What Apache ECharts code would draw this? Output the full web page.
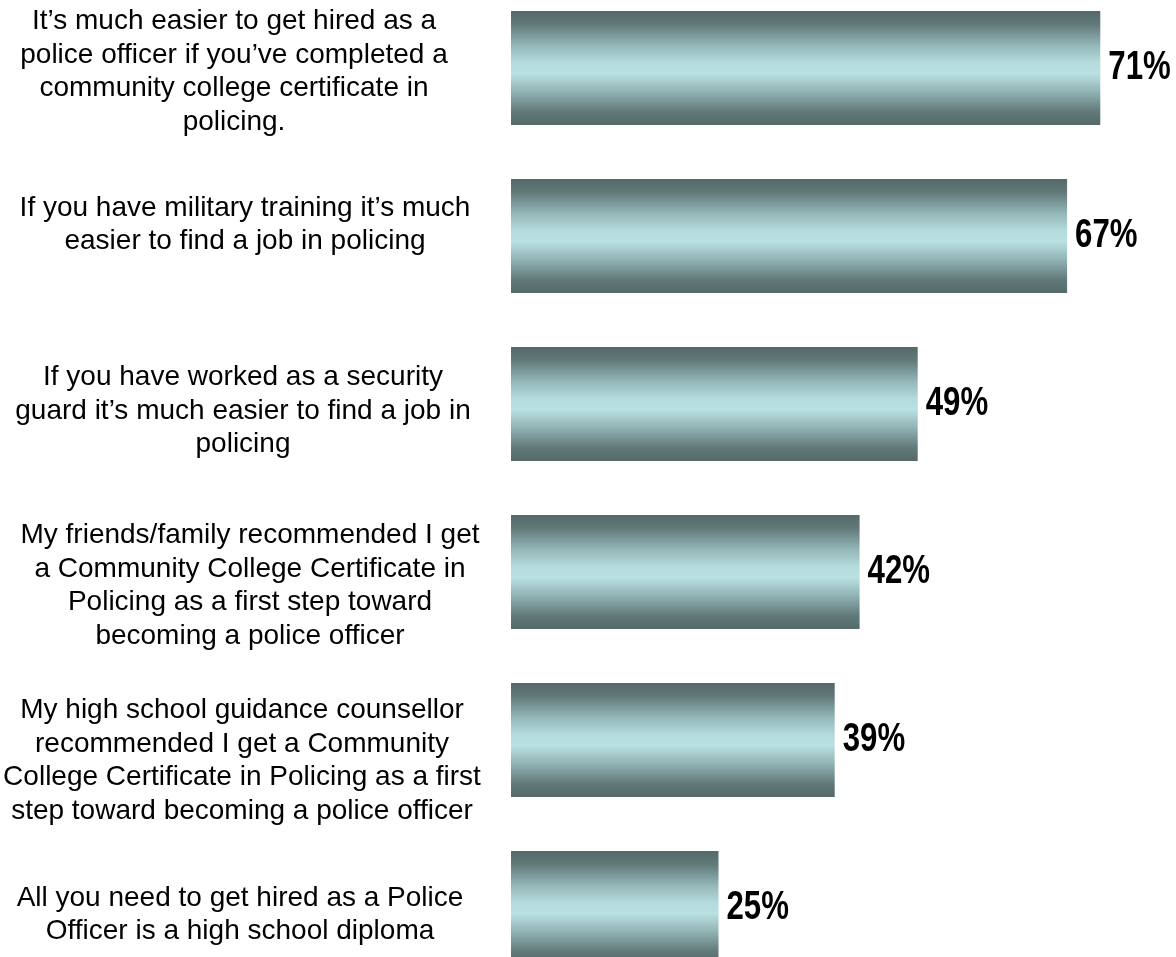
<!DOCTYPE html>
<html>
<head>
<meta charset="utf-8">
<script src="https://cdn.jsdelivr.net/npm/echarts@6/dist/echarts.min.js"></script>
<style>
  html, body { margin: 0; padding: 0; background: #ffffff; }
  #chart { width: 1176px; height: 957px; }
</style>
</head>
<body>
<div id="chart"></div>
<script>
// Survey statements (top to bottom) and share agreeing, in percent
const statements = [
  'It\u2019s much easier to get hired as a\npolice officer if you\u2019ve completed a\ncommunity college certificate in\npolicing.',
  'If you have military training it\u2019s much\neasier to find a job in policing',
  'If you have worked as a security\nguard it\u2019s much easier to find a job in\npolicing',
  'My friends/family recommended I get\na Community College Certificate in\nPolicing as a first step toward\nbecoming a police officer',
  'My high school guidance counsellor\nrecommended I get a Community\nCollege Certificate in Policing as a first\nstep toward becoming a police officer',
  'All you need to get hired as a Police\nOfficer is a high school diploma'
];
const agreePct = [71, 67, 49, 42, 39, 25];

// Offsets of each statement block from its bar centre: [dx, dy] in px
const labelNudge = [[-7, 4], [4, -11], [2, 7], [9, 14], [1, 21], [-1, 7]];

// Metallic teal fill: dark edges, pale centre
const barFill = new echarts.graphic.LinearGradient(0, 0, 0, 1, [
  { offset: 0.00, color: '#546969' },
  { offset: 0.12, color: '#627a7a' },
  { offset: 0.30, color: '#93b6b7' },
  { offset: 0.45, color: '#b4dadc' },
  { offset: 0.55, color: '#b9e0e2' },
  { offset: 0.70, color: '#93b6b7' },
  { offset: 0.88, color: '#627a7a' },
  { offset: 1.00, color: '#546969' }
]);

const chart = echarts.init(document.getElementById('chart'), null, { renderer: 'canvas' });
chart.setOption({
  backgroundColor: '#ffffff',
  animation: false,
  grid: {
    left: 511,
    width: 664,
    top: -16,
    height: 1008,
    containLabel: false,
    outerBoundsMode: 'none'
  },
  xAxis: {
    type: 'value',
    min: 0,
    max: 80,
    show: false
  },
  yAxis: {
    type: 'category',
    inverse: true,
    data: statements,
    axisLine: { show: false },
    axisTick: { show: false },
    splitLine: { show: false },
    axisLabel: { show: false }
  },
  series: [{
    type: 'bar',
    data: agreePct,
    barWidth: 114,
    itemStyle: { color: barFill }
  }, {
    // Centred statement text to the left of each bar
    type: 'custom',
    data: statements.map((s, i) => [0, i]),
    encode: { x: 0, y: 1 },
    silent: true,
    renderItem: function (params, api) {
      const i = params.dataIndex;
      const pt = api.coord([0, api.value(1)]);
      return {
        type: 'text',
        x: pt[0] - 270 + labelNudge[i][0],
        y: pt[1] + labelNudge[i][1],
        style: {
          text: statements[i],
          font: '28px "Liberation Sans", Arial, sans-serif',
          lineHeight: 33.5,
          fill: '#000000',
          align: 'center',
          verticalAlign: 'middle'
        }
      };
    }
  }, {
    // Condensed bold value labels at the end of each bar
    type: 'custom',
    data: agreePct.map((v, i) => [v, i]),
    encode: { x: 0, y: 1 },
    z: 5,
    silent: true,
    renderItem: function (params, api) {
      const pt = api.coord([api.value(0), api.value(1)]);
      return {
        type: 'text',
        x: pt[0] + 8,
        y: pt[1],
        scaleX: 0.78,
        style: {
          text: api.value(0) + '%',
          font: 'bold 40px "Liberation Sans", Arial, sans-serif',
          fill: '#000000',
          align: 'left',
          verticalAlign: 'middle'
        }
      };
    }
  }]
});
</script>
</body>
</html>
